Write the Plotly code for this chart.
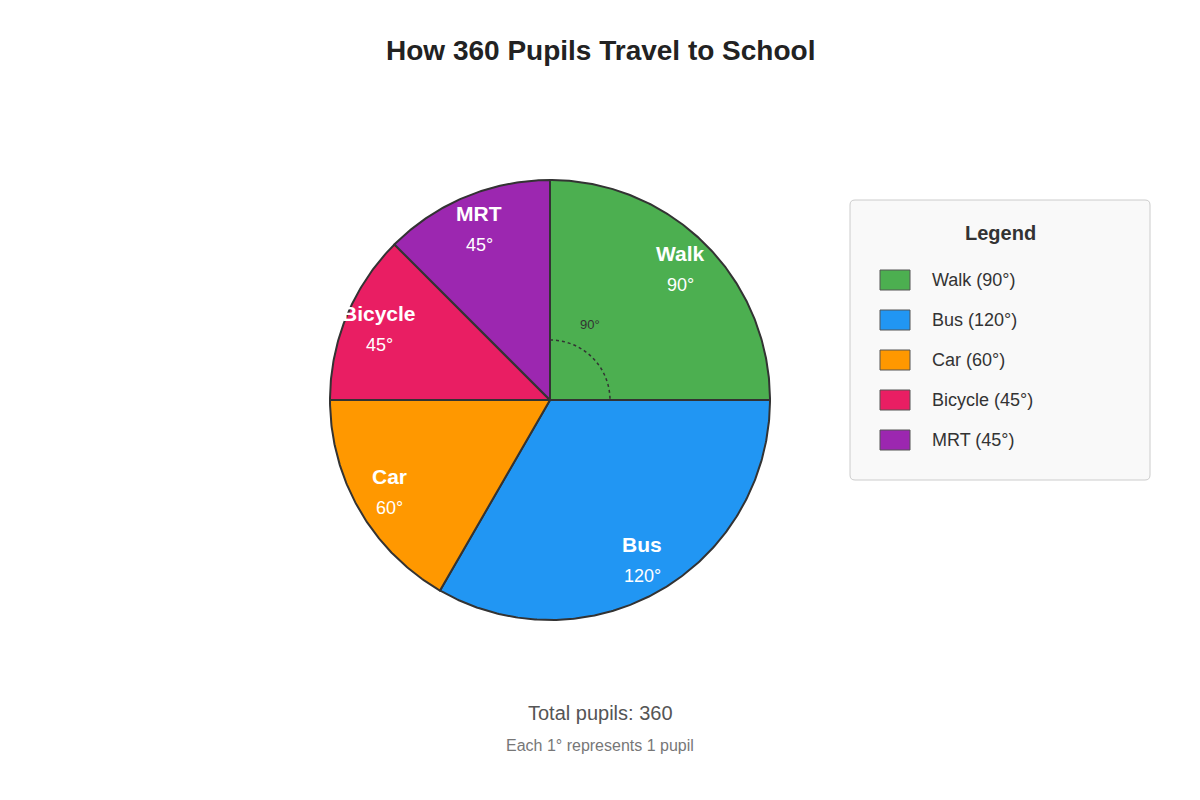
import numpy as np
import plotly.graph_objects as go

# ---- data ----
categories = ["Walk", "Bus", "Car", "Bicycle", "MRT"]
degrees = [90, 120, 60, 45, 45]
colors = ["#4CAF50", "#2196F3", "#FF9800", "#E91E63", "#9C27B0"]
total_pupils = 360
title_text = "How 360 Pupils Travel to School"

# ---- layout constants (page-pixel space) ----
W, H = 1200, 800
OFF = 8  # page body margin
CX, CY, R = 550, 400, 220
FONT = "Liberation Sans, Arial, Helvetica, sans-serif"


def pt(angle_deg, r):
    a = np.radians(angle_deg)
    return CX + r * np.sin(a), CY - r * np.cos(a)


fig = go.Figure()

# slices
start = 0.0
mids = []
for cat, val, col in zip(categories, degrees, colors):
    end = start + val
    angs = np.linspace(start, end, max(int(val * 2), 2))
    xs, ys = pt(angs, R)
    px = np.concatenate([[CX], xs, [CX]])
    py = np.concatenate([[CY], ys, [CY]])
    fig.add_trace(go.Scatter(
        x=px, y=py, mode="lines", fill="toself", fillcolor=col,
        line=dict(color="#333333", width=2), name=f"{cat} ({val}°)",
        hoverinfo="name", showlegend=False,
    ))
    mids.append((start + end) / 2)
    start = end

annotations = []
shapes = []

# faint outer circle
shapes.append(dict(type="circle", xref="x", yref="y", x0=CX - R, x1=CX + R,
                   y0=CY - R, y1=CY + R, line=dict(color="#cccccc", width=1),
                   layer="below"))

# slice labels
for cat, val, mid in zip(categories, degrees, mids):
    lx, ly = pt(mid, 0.84 * R)
    annotations.append(dict(x=lx, y=ly - 16, xref="x", yref="y", text=f"<b>{cat}</b>",
                            showarrow=False, font=dict(family=FONT, size=21, color="white")))
    annotations.append(dict(x=lx, y=ly + 16, xref="x", yref="y", text=f"{val}°",
                            showarrow=False, font=dict(family=FONT, size=18, color="white")))

# right-angle marker for Walk
walk_angs = np.linspace(0, degrees[0], 40)
ax_, ay_ = pt(walk_angs, 60)
path = "M " + " L ".join(f"{x:.2f},{y:.2f}" for x, y in zip(ax_, ay_))
shapes.append(dict(type="path", xref="x", yref="y", path=path,
                   line=dict(color="#333333", width=1.5, dash="dot")))
mx, my = pt(28, 85)
annotations.append(dict(x=mx, y=my, xref="x", yref="y", text=f"{degrees[0]}°", showarrow=False,
                        font=dict(family=FONT, size=13, color="#333333")))

# legend box (rounded)
LX0, LX1, LY0, LY1, RR = 850, 1150, 200, 480, 5
legend_path = (f"M {LX0+RR},{LY0} L {LX1-RR},{LY0} Q {LX1},{LY0} {LX1},{LY0+RR} "
               f"L {LX1},{LY1-RR} Q {LX1},{LY1} {LX1-RR},{LY1} L {LX0+RR},{LY1} "
               f"Q {LX0},{LY1} {LX0},{LY1-RR} L {LX0},{LY0+RR} Q {LX0},{LY0} {LX0+RR},{LY0} Z")
shapes.append(dict(type="path", xref="x", yref="y", path=legend_path,
                   fillcolor="#f9f9f9", line=dict(color="#cccccc", width=1), layer="below"))
annotations.append(dict(x=(LX0 + LX1) / 2, y=233, xref="x", yref="y", text="<b>Legend</b>",
                        showarrow=False, font=dict(family=FONT, size=20, color="#333333")))
for i, (cat, val, col) in enumerate(zip(categories, degrees, colors)):
    yc = 280 + 40 * i
    shapes.append(dict(type="rect", xref="x", yref="y", x0=880, x1=910, y0=yc - 10, y1=yc + 10,
                       fillcolor=col, line=dict(color="#555555", width=1)))
    annotations.append(dict(x=930, y=yc, xref="x", yref="y", text=f"{cat} ({val}°)",
                            xanchor="left", showarrow=False,
                            font=dict(family=FONT, size=18, color="#333333")))

# title and footer
annotations.append(dict(x=W / 2, y=50, xref="x", yref="y", text=f"<b>{title_text}</b>",
                        showarrow=False, font=dict(family=FONT, size=28, color="#222222")))
annotations.append(dict(x=W / 2, y=713, xref="x", yref="y", text=f"Total pupils: {total_pupils}",
                        showarrow=False, font=dict(family=FONT, size=20, color="#555555")))
annotations.append(dict(x=W / 2, y=745, xref="x", yref="y", text="Each 1° represents 1 pupil",
                        showarrow=False, font=dict(family=FONT, size=16, color="#777777")))

fig.update_layout(
    width=W, height=H, margin=dict(l=0, r=0, t=0, b=0),
    paper_bgcolor="white", plot_bgcolor="white",
    xaxis=dict(range=[OFF, W + OFF], visible=False, fixedrange=True),
    yaxis=dict(range=[H + OFF, OFF], visible=False, fixedrange=True),
    shapes=shapes, annotations=annotations, showlegend=False,
    font=dict(family=FONT),
)

fig.write_html("out.html")
